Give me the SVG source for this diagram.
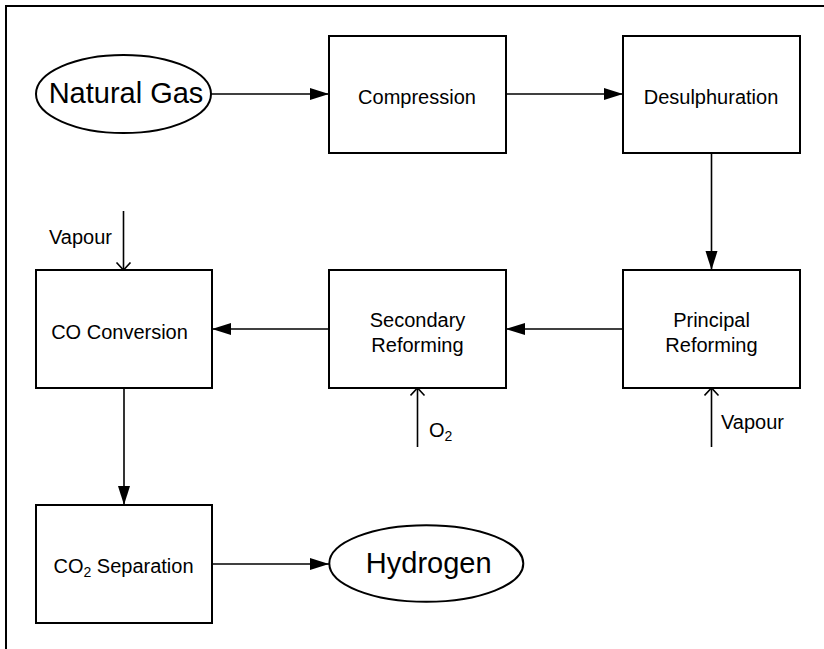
<svg xmlns="http://www.w3.org/2000/svg" width="824" height="649" viewBox="0 0 824 649">
  <style>
    .box { fill: #ffffff; stroke: #000000; stroke-width: 2; }
    .line { fill: none; stroke: #000000; stroke-width: 1.6; }
    .label { font-family: "Liberation Sans", Arial, sans-serif; font-size: 20px; fill: #000000; }
    .big { font-family: "Liberation Sans", Arial, sans-serif; font-size: 29px; fill: #000000; }
    .mid { text-anchor: middle; }
    .sub { font-size: 14px; }
  </style>
  <defs>
    <marker id="solid" markerUnits="userSpaceOnUse" markerWidth="20" markerHeight="13" refX="19" refY="6" orient="auto">
      <path d="M0,0 L19,6 L0,12 z" fill="#000000"/>
    </marker>
    <marker id="open" markerUnits="userSpaceOnUse" markerWidth="12" markerHeight="18" refX="8.5" refY="8" orient="auto">
      <path d="M1,1 L8.5,8 L1,15" fill="none" stroke="#000000" stroke-width="1.6"/>
    </marker>
  </defs>

  <rect width="824" height="649" fill="#ffffff"/>
  <!-- frame -->
  <path d="M6,649 L6,6 L824,6" fill="none" stroke="#000000" stroke-width="2"/>

  <g id="connectors">
    <line class="line" x1="211" y1="94" x2="329" y2="94" marker-end="url(#solid)"/>
    <line class="line" x1="506" y1="94" x2="623" y2="94" marker-end="url(#solid)"/>
    <line class="line" x1="711.5" y1="153" x2="711.5" y2="270" marker-end="url(#solid)"/>
    <line class="line" x1="623" y1="329" x2="506" y2="329" marker-end="url(#solid)"/>
    <line class="line" x1="329" y1="329" x2="212" y2="329" marker-end="url(#solid)"/>
    <line class="line" x1="124" y1="388" x2="124" y2="505" marker-end="url(#solid)"/>
    <line class="line" x1="212" y1="564" x2="329" y2="564" marker-end="url(#solid)"/>
    <line class="line" x1="123.5" y1="211" x2="123.5" y2="270" marker-end="url(#open)"/>
    <line class="line" x1="417.5" y1="447" x2="417.5" y2="388" marker-end="url(#open)"/>
    <line class="line" x1="711.5" y1="447" x2="711.5" y2="388" marker-end="url(#open)"/>
    <text class="label" x="49" y="244">Vapour</text>
    <text class="label" x="721" y="428.5">Vapour</text>
    <text class="label" x="429" y="436.7">O<tspan class="sub" dy="4">2</tspan></text>
  </g>

  <g id="natural-gas">
    <ellipse class="box" cx="123.5" cy="94" rx="87.5" ry="39"/>
    <text class="big mid" x="126" y="102.7">Natural Gas</text>
  </g>

  <g id="compression">
    <rect class="box" x="329" y="36" width="177" height="117"/>
    <text class="label mid" x="417" y="104">Compression</text>
  </g>

  <g id="desulphuration">
    <rect class="box" x="623" y="36" width="177" height="117"/>
    <text class="label mid" x="711" y="104">Desulphuration</text>
  </g>

  <g id="principal-reforming">
    <rect class="box" x="623" y="270" width="177" height="118"/>
    <text class="label mid" x="711.5" y="326.7">Principal</text>
    <text class="label mid" x="711.5" y="351.7">Reforming</text>
  </g>

  <g id="secondary-reforming">
    <rect class="box" x="329" y="270" width="177" height="118"/>
    <text class="label mid" x="417.5" y="326.7">Secondary</text>
    <text class="label mid" x="417.5" y="351.7">Reforming</text>
  </g>

  <g id="co-conversion">
    <rect class="box" x="36" y="270" width="176" height="118"/>
    <text class="label mid" x="119.5" y="339">CO Conversion</text>
  </g>

  <g id="co2-separation">
    <rect class="box" x="36" y="505" width="176" height="118"/>
    <text class="label mid" x="123.5" y="573.3">CO<tspan class="sub" dy="4">2</tspan><tspan dy="-4"> Separation</tspan></text>
  </g>

  <g id="hydrogen">
    <ellipse class="box" cx="426.3" cy="563.5" rx="97" ry="38.3"/>
    <text class="big mid" x="428.7" y="572.7">Hydrogen</text>
  </g>
</svg>
